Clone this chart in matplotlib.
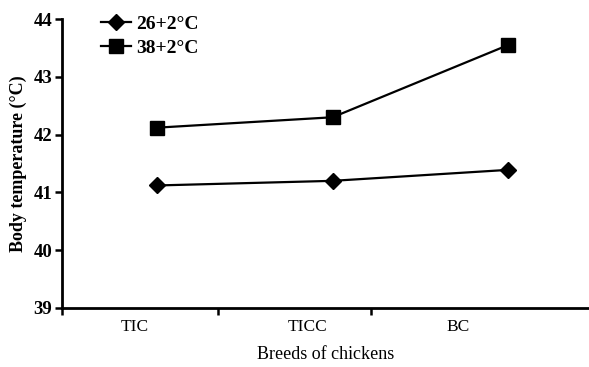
import matplotlib.pyplot as plt
from matplotlib.ticker import FixedLocator, NullFormatter

breeds = ['TIC', 'TICC', 'BC']
temp_26 = [41.12, 41.20, 41.39]
temp_38 = [42.12, 42.30, 43.55]
y_ticks = [39, 40, 41, 42, 43, 44]

plt.rcParams['font.family'] = ['Liberation Serif', 'DejaVu Serif']

fig = plt.figure(figsize=(5.89, 3.67), dpi=100)
ax = fig.add_axes([62 / 589, 59 / 367, 527 / 589, 289 / 367])

x = range(len(breeds))
ax.plot(x, temp_26, color='black', lw=1.6, marker='D', markersize=8.5,
        label='26+2°C')
ax.plot(x, temp_38, color='black', lw=1.6, marker='s', markersize=9.5,
        label='38+2°C')

ax.set_xlim(-0.541, 2.46)
ax.set_ylim(39, 44)
ax.set_yticks(y_ticks)
ax.set_yticklabels([str(v) for v in y_ticks], fontsize=13.5, fontweight='bold')

# boundary ticks without labels, breed names centred between them
ax.xaxis.set_major_locator(FixedLocator([-0.541, 0.348, 1.219]))
ax.xaxis.set_major_formatter(NullFormatter())
ax.xaxis.set_minor_locator(FixedLocator([-0.125, 0.855, 1.715]))
ax.set_xticklabels(breeds, minor=True, fontsize=12.5)
ax.tick_params(axis='x', which='minor', length=0, pad=8)
ax.tick_params(axis='x', which='major', length=5, width=1.8)
ax.tick_params(axis='y', length=5, width=1.8, pad=2)

for side in ['top', 'right']:
    ax.spines[side].set_visible(False)
for side in ['left', 'bottom']:
    ax.spines[side].set_linewidth(2)

ax.set_ylabel('Body temperature (°C)', fontsize=13, fontweight='bold', labelpad=5)
ax.set_xlabel('Breeds of chickens', fontsize=13, labelpad=8)

ax.legend(loc='upper left', bbox_to_anchor=(0.06, 1.04), frameon=False,
          prop={'size': 14, 'weight': 'bold'}, handlelength=1.5,
          handletextpad=0.3, labelspacing=0.35, borderaxespad=0)

fig.savefig('out.png', dpi=100)
